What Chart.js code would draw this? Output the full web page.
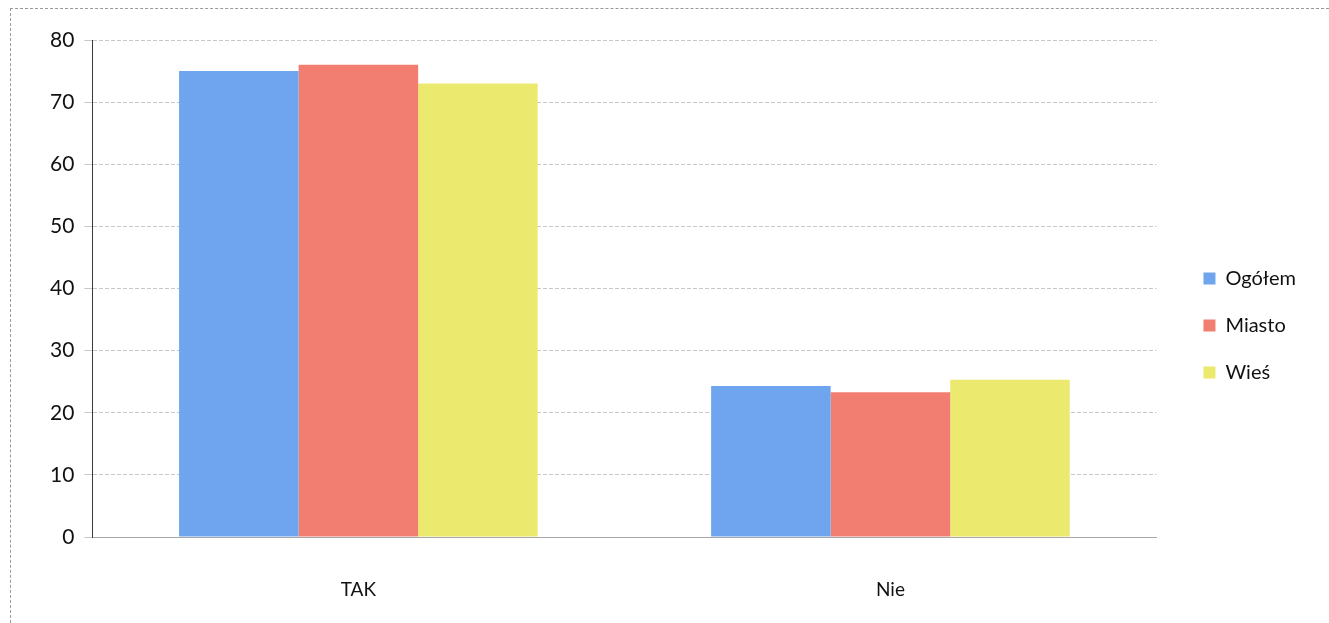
<!DOCTYPE html>
<html lang="pl">
<head>
<meta charset="utf-8">
<title>TAK / Nie</title>
<script src="https://cdn.jsdelivr.net/npm/chart.js@4.4.1/dist/chart.umd.min.js"></script>
<style>
  html, body { margin: 0; padding: 0; background: #fff; }
  #wrap { position: relative; width: 1329px; height: 623px; overflow: hidden; }
  #frame { position: absolute; left: 10px; top: 8px; right: -5px; bottom: -5px;
           border-top: 1px dashed #9a9a9a; border-left: 1px dashed #9a9a9a; pointer-events: none; }
</style>
</head>
<body>
<div id="wrap">
  <canvas id="myChart" width="1329" height="623"></canvas>
  <div id="frame"></div>
</div>
<script>
// dane (%)
const kategorie = ['TAK', 'Nie'];
const ogolem = [75, 24.3];
const miasto = [76, 23.3];
const wies = [73, 25.3];
const ticksY = [0, 10, 20, 30, 40, 50, 60, 70, 80];

const fontName = 'Lato, "Open Sans", sans-serif';

// przesuniecie legendy (odstep od obszaru wykresu)
const legendShift = {
	id: 'legendShift',
	afterLayout(chart) {
		if (chart.legend) {
			chart.legend.left += 20;
			chart.legend.right += 20;
			chart.legend.top -= 6;
			chart.legend.bottom -= 6;
		}
	}
};

const ctx = document.getElementById('myChart').getContext('2d');

new Chart(ctx, {
	type: 'bar',
	data: {
		labels: kategorie,
		datasets: [
			{ label: 'Ogółem', data: ogolem, backgroundColor: '#6fa5ef' },
			{ label: 'Miasto', data: miasto, backgroundColor: '#f27e71' },
			{ label: 'Wieś', data: wies, backgroundColor: '#ebea6e' }
		]
	},
	options: {
		responsive: false,
		animation: false,
		layout: { padding: { top: 40, left: 40, right: 43, bottom: 0 } },
		datasets: {
			bar: { categoryPercentage: 0.674, barPercentage: 1.0 }
		},
		plugins: {
			tooltip: { enabled: false },
			legend: {
				position: 'right',
				labels: {
					boxWidth: 12,
					boxHeight: 12,
					padding: 27,
					color: '#111',
					font: { family: fontName, size: 20 }
				}
			}
		},
		scales: {
			x: {
				afterFit(scale) { scale.height = 86; },
				grid: { display: false },
				border: { display: true, color: '#a8a8a8', dash: [5, 3] },
				ticks: { color: '#111', padding: 33, font: { family: fontName, size: 19 } }
			},
			y: {
				min: 0,
				max: 80,
				afterBuildTicks(scale) {
					scale.ticks = ticksY.map(v => ({ value: v }));
				},
				grid: { color: '#c8c8c8', tickLength: 8 },
				border: { display: true, color: '#3a3a3a', dash: [4, 2], width: 1 },
				ticks: { color: '#111', padding: 10, font: { family: fontName, size: 21 } }
			}
		}
	},
	plugins: [legendShift]
});
</script>
</body>
</html>
